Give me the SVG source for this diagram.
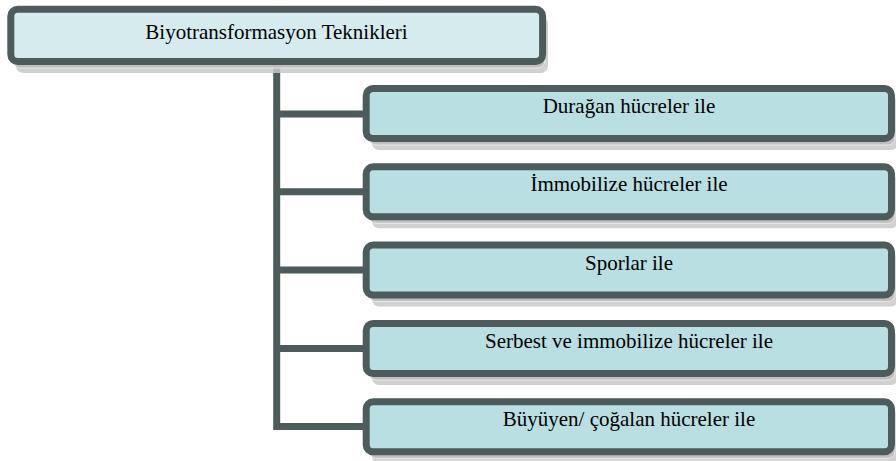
<svg xmlns="http://www.w3.org/2000/svg" width="896" height="461" viewBox="0 0 896 461">
<style>
.box{stroke:#4e5b5c;stroke-width:7}
.title{fill:#d6ebee}
.child{fill:#b9dfe2}
.sh1{fill:#c9c9c9;opacity:0.85}
.sh2{fill:#bcbcbc;stroke:#eeeeee;stroke-width:1;opacity:0.85}
.conn{fill:none;stroke:#4e5b5c;stroke-width:7;stroke-linejoin:miter}
text{font-family:"Liberation Serif","Times New Roman",serif;font-size:21px;fill:#000;text-anchor:middle}
</style>
<rect width="896" height="461" fill="#ffffff"/>
<g id="connectors">
<path class="conn" d="M276.7,62 V426.5 H366"/>
<path class="conn" d="M276.7,114 H366"/>
<path class="conn" d="M276.7,191.8 H366"/>
<path class="conn" d="M276.7,270.1 H366"/>
<path class="conn" d="M276.7,348.5 H366"/>
</g>
<g id="root">
<rect class="sh1" x="16" y="17" width="532" height="56" rx="7"/>
<rect class="sh2" x="13" y="13" width="532" height="55" rx="7"/>
<rect class="box title" x="10.8" y="9.2" width="531.8" height="52.4" rx="7"/>
<text x="276.5" y="38.5">Biyotransformasyon Teknikleri</text>
</g>
<g id="n1">
<rect class="sh1" x="372" y="97" width="526" height="53" rx="7"/>
<rect class="sh2" x="369" y="92" width="526" height="53" rx="7"/>
<rect class="box child" x="366.2" y="88.5" width="525.3" height="50" rx="7"/>
<text x="629" y="113">Durağan hücreler ile</text>
</g>
<g id="n2">
<rect class="sh1" x="372" y="175.3" width="526" height="53" rx="7"/>
<rect class="sh2" x="369" y="170.3" width="526" height="53" rx="7"/>
<rect class="box child" x="366.2" y="166.8" width="525.3" height="50" rx="7"/>
<text x="629" y="191.3">İmmobilize hücreler ile</text>
</g>
<g id="n3">
<rect class="sh1" x="372" y="253.6" width="526" height="53" rx="7"/>
<rect class="sh2" x="369" y="248.6" width="526" height="53" rx="7"/>
<rect class="box child" x="366.2" y="245.1" width="525.3" height="50" rx="7"/>
<text x="629" y="269.6">Sporlar ile</text>
</g>
<g id="n4">
<rect class="sh1" x="372" y="332" width="526" height="53" rx="7"/>
<rect class="sh2" x="369" y="327" width="526" height="53" rx="7"/>
<rect class="box child" x="366.2" y="323.5" width="525.3" height="50" rx="7"/>
<text x="629" y="347.5">Serbest ve immobilize hücreler ile</text>
</g>
<g id="n5">
<rect class="sh1" x="372" y="410.3" width="526" height="53" rx="7"/>
<rect class="sh2" x="369" y="405.3" width="526" height="53" rx="7"/>
<rect class="box child" x="366.2" y="401.8" width="525.3" height="50" rx="7"/>
<text x="629" y="426">Büyüyen/ çoğalan hücreler ile</text>
</g>
</svg>
